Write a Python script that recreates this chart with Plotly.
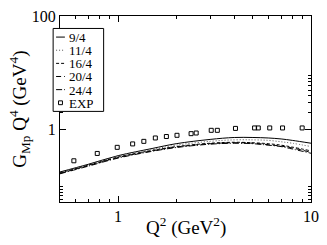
import plotly.graph_objects as go
import math

# ---- data ----
q2_theory = [0.5, 0.7, 1.0, 1.5, 2.0, 3.0, 4.0, 5.0, 6.0, 7.0, 8.0, 10.0]
g_9_4  = [0.182, 0.248, 0.352, 0.470, 0.571, 0.679, 0.734, 0.734, 0.720, 0.692, 0.653, 0.582]
g_11_4 = [0.179, 0.244, 0.345, 0.452, 0.538, 0.629, 0.667, 0.667, 0.653, 0.617, 0.582, 0.508]
g_16_4 = [0.175, 0.239, 0.332, 0.435, 0.508, 0.582, 0.605, 0.593, 0.571, 0.538, 0.498, 0.427]
g_20_4 = [0.172, 0.234, 0.326, 0.427, 0.498, 0.571, 0.593, 0.582, 0.549, 0.518, 0.480, 0.403]
g_24_4 = [0.169, 0.230, 0.319, 0.419, 0.489, 0.560, 0.582, 0.571, 0.538, 0.508, 0.461, 0.388]

q2_exp = [0.59, 0.78, 0.99, 1.19, 1.36, 1.56, 1.78, 2.02, 2.39, 2.54,
          3.04, 3.27, 4.06, 5.10, 5.33, 6.11, 7.12, 9.0]
g_exp = [0.286, 0.385, 0.493, 0.566, 0.628, 0.720, 0.763, 0.802, 0.857, 0.880,
         0.981, 0.981, 1.06, 1.08, 1.08, 1.08, 1.08, 1.08]

series_names = ["9/4", "11/4", "16/4", "20/4", "24/4"]
series_values = [g_9_4, g_11_4, g_16_4, g_20_4, g_24_4]
series_dash = ["solid", "1px,2px", "3px,2px", "5px,3px", "6px,2px,1px,2px"]
series_color = ["black", "#555555", "black", "black", "black"]

x_ticks = [1, 10]
x_ticklabels = ["1", "10"]
x_minor = [0.6, 0.7, 0.8, 0.9, 2, 3, 4, 5, 6, 7, 8, 9]
y_ticks = [1, 100]
y_ticklabels = ["1", "100"]
y_minor = [0.06, 0.07, 0.08, 0.09, 0.1, 2, 3, 4, 5, 6, 7, 8, 9]

x_title = "Q<sup>2</sup> (GeV<sup>2</sup>)"
y_title = "G<sub>Mp</sub> Q<sup>4</sup> (GeV<sup>4</sup>)"

FONT = "Liberation Serif"

fig = go.Figure()
for name, vals, dash, col in zip(series_names, series_values, series_dash, series_color):
    fig.add_trace(go.Scatter(x=q2_theory, y=vals, mode="lines", name=name,
                             line=dict(color=col, width=1, dash=dash, shape="spline"),
                             showlegend=False))
fig.add_trace(go.Scatter(x=q2_exp, y=g_exp, mode="markers", name="EXP",
                         marker=dict(symbol="square-open", size=4, color="black",
                                     line=dict(width=1, color="black")),
                         showlegend=False))

W, H = 327, 245
L, R, T, B = 60, 11, 8, 43
pw, ph = W - L - R, H - T - B

def px(x):
    return (x - L) / pw

def py(y):
    return (H - B - y) / ph

# legend box (drawn in paper coordinates)
shapes = [dict(type="rect", xref="paper", yref="paper",
               x0=px(53), x1=px(104.5), y0=py(107.5), y1=py(21),
               line=dict(color="black", width=1), fillcolor="white", layer="above")]
annotations = []
row_y = [30, 43.7, 57.4, 71.1, 84.8, 98.5]
for i, (name, dash, col) in enumerate(zip(series_names, series_dash, series_color)):
    yy = py(row_y[i])
    shapes.append(dict(type="line", xref="paper", yref="paper",
                       x0=px(56), x1=px(65), y0=yy, y1=yy,
                       line=dict(color=col, width=1, dash=dash), layer="above"))
    annotations.append(dict(xref="paper", yref="paper", x=px(68.5), y=yy, text=name,
                            showarrow=False, xanchor="left", yanchor="middle",
                            height=12, valign="middle", borderpad=0,
                            font=dict(family=FONT, size=13, color="black")))
yy = py(row_y[5])
shapes.append(dict(type="rect", xref="paper", yref="paper",
                   x0=px(58.5), x1=px(62.5), y0=yy - 2 / ph, y1=yy + 2 / ph,
                   line=dict(color="black", width=1), layer="above"))
annotations.append(dict(xref="paper", yref="paper", x=px(68.5), y=yy, text="EXP",
                        showarrow=False, xanchor="left", yanchor="middle",
                        height=12, valign="middle", borderpad=0,
                        font=dict(family=FONT, size=13, color="black")))
# axis titles
annotations.append(dict(xref="paper", yref="paper", x=px(188), y=py(228), text=x_title,
                        showarrow=False, xanchor="center", yanchor="middle",
                        font=dict(family=FONT, size=19, color="black")))
annotations.append(dict(xref="paper", yref="paper", x=px(18), y=py(105), text=y_title,
                        showarrow=False, xanchor="center", yanchor="middle", textangle=-90,
                        font=dict(family=FONT, size=19, color="black")))

fig.update_layout(
    width=W, height=H,
    margin=dict(l=L, r=R, t=T, b=B, pad=0),
    paper_bgcolor="white", plot_bgcolor="white",
    font=dict(family=FONT, size=15, color="black"),
    shapes=shapes, annotations=annotations,
    showlegend=False,
)
fig.update_xaxes(type="log", range=[math.log10(0.5), 1.0],
                 tickmode="array", tickvals=x_ticks, ticktext=x_ticklabels,
                 ticks="inside", ticklen=6, tickwidth=1, tickcolor="black",
                 minor=dict(tickmode="array", tickvals=x_minor, ticks="inside",
                            ticklen=3, tickwidth=1, tickcolor="black", showgrid=False),
                 showline=True, linecolor="black", linewidth=1, mirror="ticks",
                 showgrid=False, zeroline=False, ticklabeloverflow="allow",
                 tickfont=dict(family=FONT, size=16))
fig.update_yaxes(type="log", range=[math.log10(0.054), 2.0],
                 tickmode="array", tickvals=y_ticks, ticktext=y_ticklabels,
                 ticks="inside", ticklen=6, tickwidth=1, tickcolor="black",
                 minor=dict(tickmode="array", tickvals=y_minor, ticks="inside",
                            ticklen=3, tickwidth=1, tickcolor="black", showgrid=False),
                 showline=True, linecolor="black", linewidth=1, mirror="ticks",
                 showgrid=False, zeroline=False,
                 tickfont=dict(family=FONT, size=16))

fig.write_html("out.html", config={"displayModeBar": False},
               post_script="document.body.style.margin='0';")
